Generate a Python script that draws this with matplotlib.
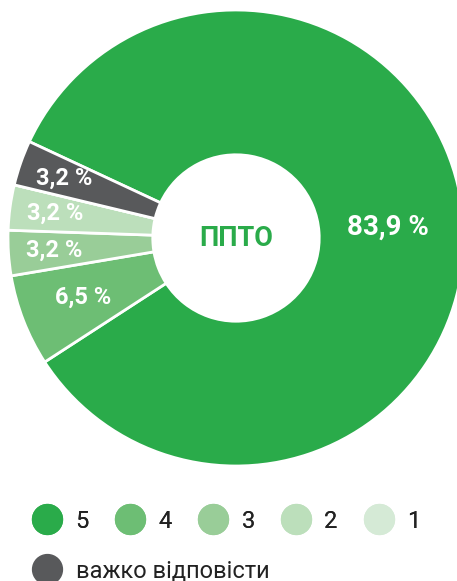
import numpy as np
import matplotlib
matplotlib.use('Agg')
import matplotlib.pyplot as plt
from matplotlib.lines import Line2D

plt.rcParams['font.family'] = ['Roboto', 'DejaVu Sans']

# data
categories = ['5', '4', '3', '2', '1', 'важко відповісти']
shares = [83.9, 6.5, 3.2, 3.2, 0.0, 3.2]
labels = ['83,9 %', '6,5 %', '3,2 %', '3,2 %', '', '3,2 %']
colors = ['#2aab4a', '#6dbe74', '#99cd98', '#bcdfbb', '#d5ead6', '#58595b']
center_title = 'ППТО'

fig = plt.figure(figsize=(4.57, 5.81), dpi=100)
ax = fig.add_axes([8 / 457, 115 / 581, 456 / 457, 456 / 581])

start = 155
wedges, _ = ax.pie(shares, colors=colors, startangle=start, counterclock=False,
                   radius=1.0, wedgeprops=dict(width=0.635, edgecolor='white', linewidth=2))
ax.set_xlim(-1, 1)
ax.set_ylim(-1, 1)
ax.set_aspect('equal')
ax.axis('off')

# percentage labels along the ring
for w, lab, val in zip(wedges, labels, shares):
    if not lab:
        continue
    mid = np.deg2rad((w.theta1 + w.theta2) / 2)
    if val > 50:
        r, size = 0.67, 20
    elif val > 5:
        r, size = 0.72, 17
    else:
        r, size = 0.80, 17
    ax.text(r * np.cos(mid), r * np.sin(mid), lab, ha='center', va='center',
            color='white', fontsize=size, fontweight='bold')

ax.text(0, 0, center_title, ha='center', va='center', color=colors[0],
        fontsize=19.5, fontweight='bold')

# legend
handles = [Line2D([], [], marker='o', linestyle='', markersize=21.5,
                  markerfacecolor=c, markeredgecolor=c) for c in colors]
leg1 = fig.legend(handles[:5], categories[:5], ncol=5, loc='center left',
                  bbox_to_anchor=(33 / 457, 60 / 581), frameon=False, fontsize=17,
                  handlelength=1.2, handletextpad=0.6, columnspacing=1.15,
                  borderpad=0, borderaxespad=0)
for t in leg1.get_texts():
    t.set_color('#222222')
leg2 = fig.legend(handles[5:], categories[5:], loc='center left',
                  bbox_to_anchor=(33 / 457, 10 / 581), frameon=False, fontsize=17,
                  handlelength=1.2, handletextpad=0.6, borderpad=0, borderaxespad=0)
for t in leg2.get_texts():
    t.set_color('#222222')
fig.add_artist(leg1)

fig.savefig('out.png', dpi=100)
